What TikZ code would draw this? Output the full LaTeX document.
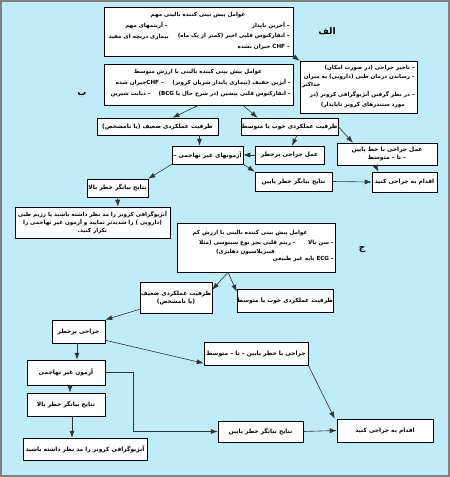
\documentclass[tikz,border=0pt]{standalone}
\usepackage{fontspec}
\newfontfamily\fa[Script=Arabic]{DejaVu Sans}
\TeXXeTstate=1
\usetikzlibrary{arrows.meta}
\definecolor{bgblue}{RGB}{192,236,250}
\newcommand{\rl}[1]{\beginR #1\endR}
\newcommand{\LT}[1]{\beginL #1\endL{}}
\begin{document}
\begin{tikzpicture}[x=1pt,y=-1pt,
 box/.style={draw=black, fill=white, line width=0.5pt, inner sep=0pt, align=center, font=\fa\bfseries\fontsize{5.9}{8}\selectfont},
 smallbox/.style={box, font=\fa\bfseries\fontsize{5.6}{8}\selectfont},
 txt/.style={inner sep=0pt, font=\fa\bfseries\fontsize{5.6}{8}\selectfont},
 lbl/.style={inner sep=0pt, font=\fa\bfseries\fontsize{9}{9}\selectfont},
 arr/.style={-{Latex[length=7pt,width=5pt]}, line width=0.6pt, draw=black!80}]
\useasboundingbox (0,0) rectangle (450,477);
\fill[bgblue] (0,0) rectangle (450,477);
\draw[gray, line width=2pt] (1,1) rectangle (449,476);

% --- section A
\node[box, minimum width=189pt, minimum height=49pt] (A1) at (198.5,31.5) {};
\node[txt] (a1t) at (198,15) {\rl{عوامل پیش بینی کننده بالینی مهم}};
\node[txt, anchor=east] (a1r1) at (290,26) {\rl{– آخرین ناپدار}};
\node[txt, anchor=east] (a1r2) at (290,36) {\rl{– انفارکتوس قلبی اخیر (کمتر از یک ماه)}};
\node[txt, anchor=east] (a1r3) at (290,47) {\rl{– \LT{CHF} جبران نشده}};
\node[txt, anchor=east] (a1l1) at (168,26) {\rl{– آریتمهای مهم}};
\node[txt, anchor=east] (a1l2) at (169,37) {\rl{بیماری دریچه ای مفید}};
\node[lbl] (la) at (327,31) {\rl{الف}};

\node[box, minimum width=117pt, minimum height=52pt] (B1) at (358.5,87) {};
\node[txt, anchor=east] (b1a) at (415,68) {\rl{– تاخیر جراحی (در صورت امکان)}};
\node[txt, anchor=east] (b1b) at (415,77) {\rl{– رساندن درمان طبی (دارویی) به میزان}};
\node[txt, anchor=west] (b1c) at (302,85) {\rl{حداکثر}};
\node[txt, anchor=east] (b1d) at (415,95) {\rl{– در نظر گرفتن آنژیوگرافی کرونر (در}};
\node[txt, anchor=east] (b1e) at (405,105) {\rl{مورد ستندرهای کرونر ناپایدار)}};

% --- section B
\node[box, minimum width=189pt, minimum height=41pt] (B2) at (198.5,84.5) {};
\node[txt] (b2t) at (198,72) {\rl{عوامل پیش بینی کننده بالینی با ارزش متوسط}};
\node[txt, anchor=east] (b2r1) at (291,83) {\rl{– آنژین خفیف (بیماری پایدار شریان کرونر)}};
\node[txt, anchor=east] (b2l1) at (164,83) {\rl{– \LT{CHF}جبران شده}};
\node[txt, anchor=east] (b2r2) at (291,94) {\rl{– انفارکتوس قلبی پیشین (در شرح حال یا \LT{BCG})}};
\node[txt, anchor=east] (b2l2) at (151,94) {\rl{– دیابت شیرین}};
\node[lbl] (lb) at (82,95) {\rl{ب}};

\node[box, minimum width=121pt, minimum height=17pt] (C1) at (157.5,126.5) {\rl{ظرفیت عملکردی ضعیف (یا نامشخص)}};
\node[box, minimum width=97pt, minimum height=17pt] (C2) at (289.5,126.5) {\rl{ظرفیت عملکردی خوب یا متوسط}};
\node[box, minimum width=71pt, minimum height=18pt] (D1) at (207.5,155) {\rl{آزمونهای غیر تهاجمی –}};
\node[box, minimum width=69pt, minimum height=18pt] (D2) at (289.5,155) {\rl{عمل جراحی پرخطر}};
\node[box, minimum width=100pt, minimum height=22pt] (D3) at (387,154) {\rl{عمل جراحی با خط پایین}\\\rl{– تا – متوسط}};
\node[box, minimum width=61pt, minimum height=18pt] (E1) at (117.5,188) {\rl{نتایج بیانگر خطر بالا}};
\node[box, minimum width=77pt, minimum height=19pt] (E2) at (293.5,181.5) {\rl{نتایج بیانگر خطر پایین}};
\node[box, minimum width=65pt, minimum height=20pt] (E3) at (404.5,182) {\rl{اقدام به جراحی کنید}};
\node[smallbox, minimum width=155pt, minimum height=31pt] (F) at (92.5,222.5) {\rl{آنژیوگرافی کرونر را مد نظر داشته باشید یا رژیم طبی}\\\rl{(دارویی ) را شدیدتر نمایید و آزمون غیر تهاجمی را}\\\rl{تکرار کنید.}};

% --- section C
\node[box, minimum width=158pt, minimum height=49pt] (G) at (256,247.5) {};
\node[txt] (gt) at (250,233) {\rl{عوامل پیش بینی کننده بالینی با ارزش کم}};
\node[txt, anchor=east] (gr1) at (334,243) {\rl{– سن بالا}};
\node[txt, anchor=east] (gm1) at (296,243) {\rl{– ریتم قلبی بجز نوع سینوسی (مثلا}};
\node[txt, anchor=east] (gm2) at (275,252) {\rl{فیبریلاسیون دهلیزی)}};
\node[txt, anchor=east] (gr2) at (334,259) {\rl{– \LT{ECG} پایه غیر طبیعی}};
\node[lbl] (lc) at (362,250) {\rl{ج}};

\node[box, minimum width=72pt, minimum height=31pt] (H1) at (176,297.5) {\rl{ظرفیت عملکردی ضعیف}\\\rl{(یا نامشخص)}};
\node[box, minimum width=96pt, minimum height=23pt] (H2) at (285,300.5) {\rl{ظرفیت عملکردی خوب یا متوسط}};
\node[box, minimum width=53pt, minimum height=23pt] (I1) at (78.5,331.5) {\rl{جراحی پرخطر}};
\node[box, minimum width=104pt, minimum height=23pt] (I2) at (256,353.5) {\rl{جراحی با خطر پایین – تا – متوسط}};
\node[box, minimum width=78pt, minimum height=25pt] (J1) at (66,372.5) {\rl{آزمون غیر تهاجمی}};
\node[box, minimum width=78pt, minimum height=23pt] (J2) at (66,404.5) {\rl{نتایج بیانگر خطر بالا}};
\node[box, minimum width=124pt, minimum height=22pt] (J3) at (85,449) {\rl{آنژیوگرافی کرونر را مد نظر داشته باشید}};
\node[box, minimum width=85pt, minimum height=21pt] (K2) at (260.5,431.5) {\rl{نتایج بیانگر خطر پایین}};
\node[box, minimum width=96pt, minimum height=23pt] (K3) at (385,430.5) {\rl{اقدام به جراحی کنید}};

% --- connectors
\draw[arr] (A1.south east) -- (B1.north west);
\draw[arr] (B2.south) -- ([xshift=15pt]C1.north);
\draw[arr] ([xshift=44.5pt]B2.south) -- ([xshift=-32pt]C2.north);
\draw[arr] ([xshift=42pt]C1.south) -- ([xshift=-8pt]D1.north);
\draw[arr] ([xshift=7.5pt]C2.south) -- ([xshift=2.5pt]D2.north);
\draw[arr] (C2.east) -- ([xshift=-34pt]D3.north);
\draw[arr] (D2.west) -- (D1.east);
\draw[arr] (D1.south west) -- (E1.north east);
\draw[arr] (D1.south east) -- (E2.north west);
\draw[arr] (E2.east) -- (E3.west);
\draw[arr] ([xshift=-12pt]D3.south) -- ([xshift=-26pt]E3.north);
\draw[arr] (E1.south) -- ([xshift=25.5pt]F.north);

\draw[arr] ([xshift=-28pt]G.south) -- ([yshift=-8pt]H1.north east);
\draw[arr] ([xshift=-28pt]G.south) -- ([yshift=-3pt]H2.north west);
\draw[arr] ([yshift=4pt]H1.south west) -- (I1.north east);
\draw[arr] ([yshift=3pt]I1.south east) -- ([yshift=2pt]I2.south west);
\draw[arr] ([xshift=-1.5pt]I1.south) -- ([xshift=11pt]J1.north);
\draw[arr] (J1.east) -- ++(28,0) |- (K2.west);
\draw[arr] ([xshift=4pt]J1.south) -- ([xshift=4pt]J2.north);
\draw[arr] ([xshift=6pt]J2.south) -- ([xshift=-13pt]J3.north);
\draw[arr] (K2.east) -- (K3.west);
\draw[arr] (I2.south east) -- ([xshift=-2pt]K3.north west);
\end{tikzpicture}
\end{document}
